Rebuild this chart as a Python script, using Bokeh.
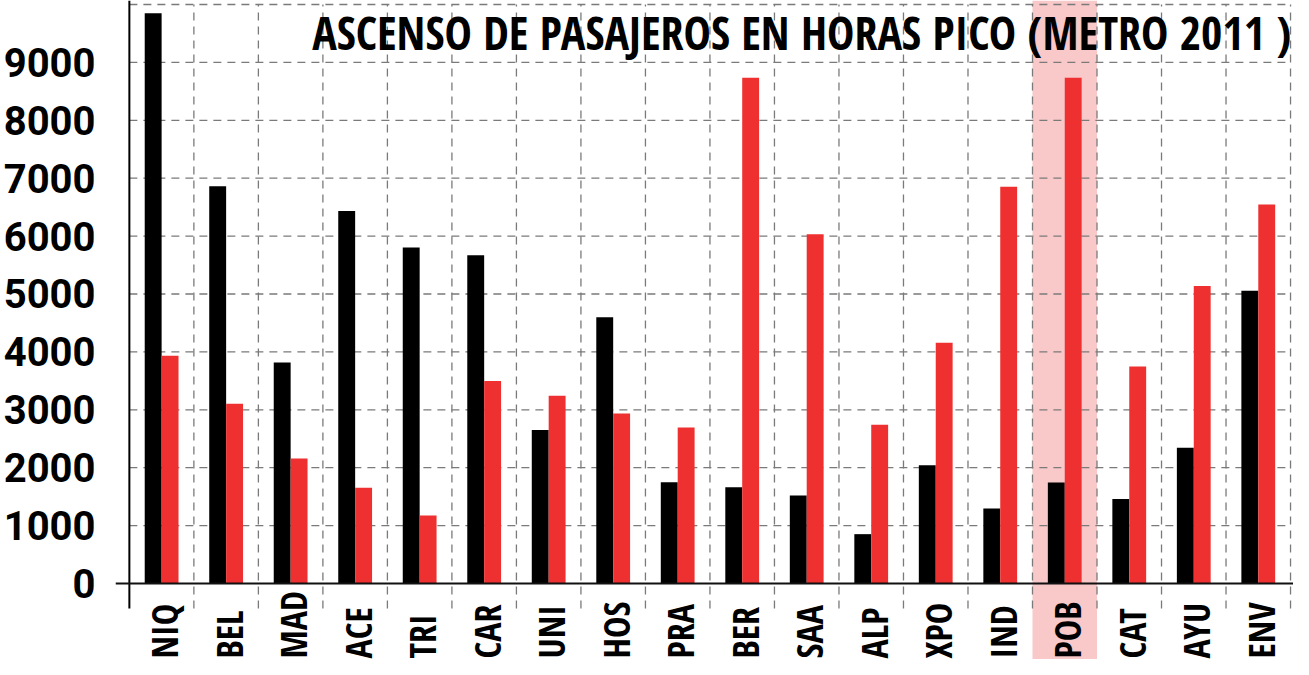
import numpy as np
from bokeh.plotting import figure
from bokeh.models import Label, Range1d, FixedTicker, BoxAnnotation
from bokeh.core.properties import value
from bokeh.embed import file_html
from bokeh.resources import INLINE

# ---- data ----
categories = ["NIQ", "BEL", "MAD", "ACE", "TRI", "CAR", "UNI", "HOS", "PRA",
              "BER", "SAA", "ALP", "XPO", "IND", "POB", "CAT", "AYU", "ENV"]
black_vals = [9850, 6860, 3816, 6434, 5804, 5668, 2652, 4600, 1750,
              1664, 1521, 852, 2044, 1295, 1743, 1460, 2346, 5054]
red_vals = [3935, 3106, 2158, 1652, 1175, 3498, 3242, 2936, 2692,
            8734, 6031, 2743, 4157, 6854, 8734, 3748, 5140, 6547]
y_ticks = [0, 1000, 2000, 3000, 4000, 5000, 6000, 7000, 8000, 9000]
highlight = "POB"
title_text = "ASCENSO DE PASAJEROS EN HORAS PICO  (METRO 2011 )"

COND = "'Noto Sans Condensed', 'Open Sans Condensed', 'Roboto Condensed', 'Noto Sans Display Condensed', Roboto"

n = len(categories)
centers = np.arange(n) + 0.5

Y0, Y1 = -1313, 10069
X0, X1 = -0.215, n + 0.046

p = figure(width=1293, height=659, x_range=Range1d(X0, X1), y_range=Range1d(Y0, Y1),
           output_backend="svg", toolbar_location=None,
           min_border_left=105, min_border_right=0, min_border_top=0, min_border_bottom=0)
p.xaxis.visible = False
p.xgrid.visible = False
p.ygrid.visible = False
p.outline_line_color = None
p.background_fill_color = "white"

ax = p.yaxis[0]
ax.ticker = FixedTicker(ticks=y_ticks)
ax.axis_line_color = None
ax.major_tick_line_color = None
ax.minor_tick_line_color = None
ax.major_label_text_font = "Roboto"
ax.major_label_text_font_style = "bold"
ax.major_label_text_font_size = "40px"
ax.major_label_text_color = "black"
ax.major_label_standoff = 14

# highlight band
hi = categories.index(highlight)
p.add_layout(BoxAnnotation(left=hi, right=hi + 1, fill_color="#F9C8C8", fill_alpha=1.0,
                           line_color=None, level="underlay"))

grid_col = "#7a7a7a"
vx = list(range(1, n + 1))
p.segment(x0=vx, y0=[-432] * n, x1=vx, y1=[10000] * n, line_color=grid_col,
          line_width=1.3, line_dash="8 6")
hy = [1000 * k for k in range(1, 11)]
p.segment(x0=[0] * len(hy), y0=hy, x1=[n] * len(hy), y1=hy, line_color=grid_col,
          line_width=1.3, line_dash="8 6")

bw = 0.262
p.vbar(x=centers - bw / 2, top=black_vals, bottom=0, width=bw, fill_color="black",
       line_color=None)
p.vbar(x=centers + bw / 2, top=red_vals, bottom=0, width=bw, fill_color="#EE3130",
       line_color=None)

# axis lines
p.segment(x0=[0], y0=[-432], x1=[0], y1=[Y1], line_color="black", line_width=2)
p.segment(x0=[X0], y0=[0], x1=[X1], y1=[0], line_color="#111111", line_width=2)

# category labels
p.text(x=centers, y=[-1295] * n, text=categories, angle=np.pi / 2,
       text_align="left", text_baseline="middle", x_offset=3,
       text_font=value(COND), text_font_style="bold",
       text_font_size="36px", text_color="black")

p.add_layout(Label(x=n - 0.06, y=9517, x_offset=16, text=title_text, text_align="right",
                   text_baseline="alphabetic", text_font=COND,
                   text_font_style="bold", text_font_size="46px", text_color="black"))

open("out.html", "w").write(file_html(p, INLINE))
